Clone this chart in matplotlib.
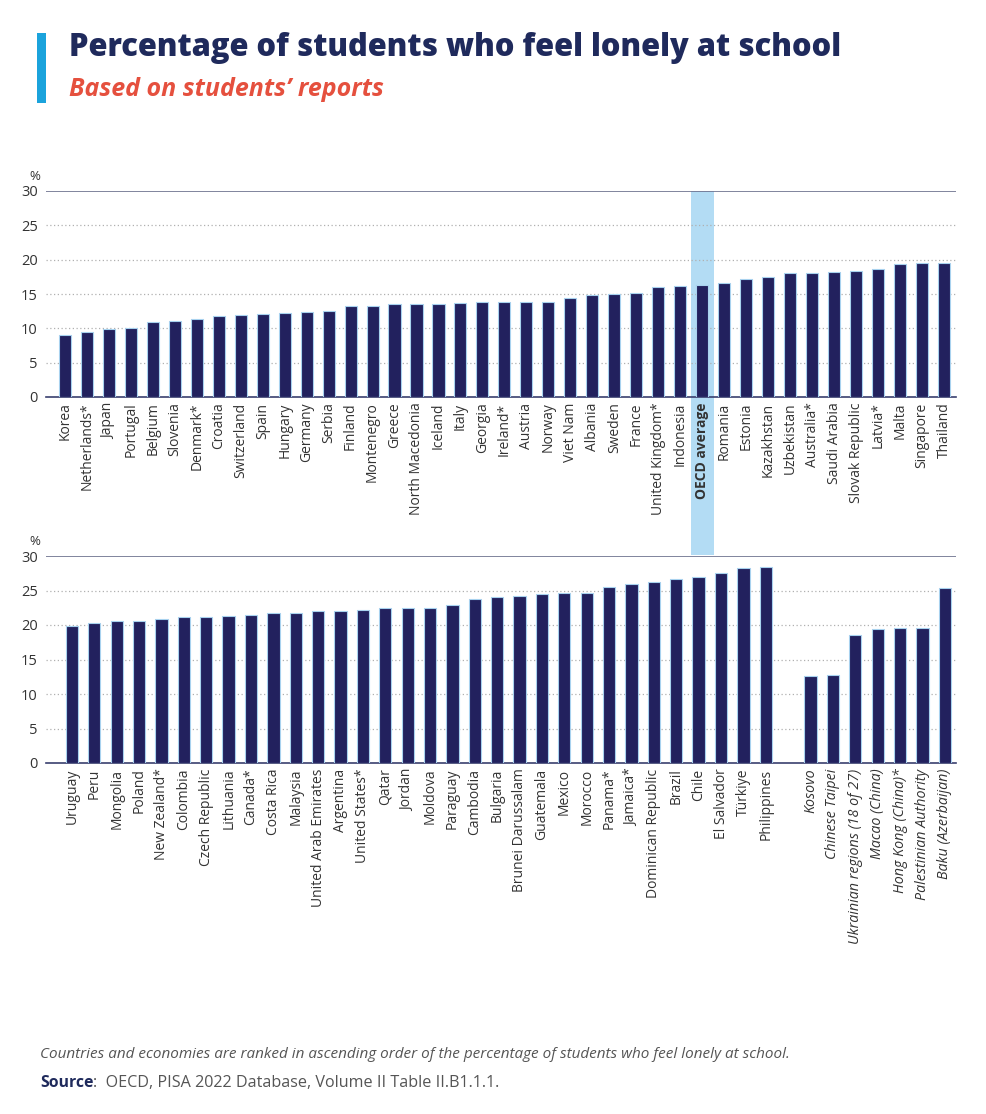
import matplotlib
matplotlib.use("Agg")
import matplotlib.pyplot as plt
import matplotlib.transforms as mtransforms
from matplotlib.patches import Rectangle

plt.rcParams['font.family'] = ['Open Sans', 'DejaVu Sans']

# ---------------- data ----------------
top_countries = ["Korea", "Netherlands*", "Japan", "Portugal", "Belgium", "Slovenia", "Denmark*",
                 "Croatia", "Switzerland", "Spain", "Hungary", "Germany", "Serbia", "Finland",
                 "Montenegro", "Greece", "North Macedonia", "Iceland", "Italy", "Georgia",
                 "Ireland*", "Austria", "Norway", "Viet Nam", "Albania", "Sweden", "France",
                 "United Kingdom*", "Indonesia", "OECD average", "Romania", "Estonia",
                 "Kazakhstan", "Uzbekistan", "Australia*", "Saudi Arabia", "Slovak Republic",
                 "Latvia*", "Malta", "Singapore", "Thailand"]
top_values = [9.1, 9.4, 9.9, 10.1, 10.9, 11.1, 11.4, 11.8, 11.9, 12.1, 12.2, 12.4, 12.5, 13.2,
              13.2, 13.5, 13.6, 13.6, 13.7, 13.8, 13.8, 13.8, 13.9, 14.4, 14.8, 15.0, 15.2,
              16.0, 16.1, 16.3, 16.6, 17.2, 17.5, 18.1, 18.1, 18.2, 18.4, 18.7, 19.4, 19.5, 19.5]

bottom_countries = ["Uruguay", "Peru", "Mongolia", "Poland", "New Zealand*", "Colombia",
                    "Czech Republic", "Lithuania", "Canada*", "Costa Rica", "Malaysia",
                    "United Arab Emirates", "Argentina", "United States*", "Qatar", "Jordan",
                    "Moldova", "Paraguay", "Cambodia", "Bulgaria", "Brunei Darussalam",
                    "Guatemala", "Mexico", "Morocco", "Panama*", "Jamaica*", "Dominican Republic",
                    "Brazil", "Chile", "El Salvador", "Türkiye", "Philippines"]
bottom_values = [19.9, 20.3, 20.6, 20.6, 20.8, 21.1, 21.2, 21.3, 21.4, 21.8, 21.8, 22.0, 22.1,
                 22.2, 22.4, 22.4, 22.5, 22.9, 23.7, 24.0, 24.2, 24.5, 24.6, 24.7, 25.5, 25.9,
                 26.2, 26.6, 27.0, 27.5, 28.2, 28.4]

partner_countries = ["Kosovo", "Chinese Taipei", "Ukrainian regions (18 of 27)", "Macao (China)",
                     "Hong Kong (China)*", "Palestinian Authority", "Baku (Azerbaijan)"]
partner_values = [12.6, 12.8, 18.5, 19.4, 19.6, 19.6, 25.3]

yticks = [0, 5, 10, 15, 20, 25, 30]

# ---------------- style ----------------
BAR = "#22215e"
EDGE = "#a8d2ef"
BAND = "#b3dcf4"
NAVY = "#1f2a5c"
GRID = "#b0b0b0"
TXT = "#333333"

W, H = 986, 1114
fig = plt.figure(figsize=(W / 100, H / 100), dpi=100)


def fx(px):
    return px / W


def fy(py):
    return 1 - py / H


ax1 = fig.add_axes([fx(46), fy(397), fx(956) - fx(46), fy(191) - fy(397)])
ax2 = fig.add_axes([fx(46), fy(763), fx(956) - fx(46), fy(556) - fy(763)])


def style_axis(ax):
    ax.set_facecolor("none")
    ax.set_ylim(0, 30)
    ax.set_yticks(yticks)
    ax.tick_params(axis="y", length=0, labelsize=10.5, colors=TXT, pad=6)
    ax.tick_params(axis="x", length=0, pad=4)
    for s in ["left", "right", "top"]:
        ax.spines[s].set_visible(False)
    ax.spines["bottom"].set_color("#3a3f6e")
    ax.spines["bottom"].set_linewidth(1.2)
    for v in yticks[1:-1]:
        ax.axhline(v, color=GRID, lw=0.9, ls=(0, (1, 2)), zorder=0)
    ax.axhline(30, color="#6b6f8c", lw=1.2, zorder=1)
    ax.text(-0.006, 1.04, "%", transform=ax.transAxes, ha="right", va="bottom",
            fontsize=9.5, color=TXT)


# top chart
x1 = list(range(len(top_countries)))
ax1.bar(x1, top_values, width=0.55, color=BAR, edgecolor=EDGE, linewidth=0.8, zorder=3)
ax1.set_xlim(-0.86, len(top_countries) - 0.45)
style_axis(ax1)
ax1.set_xticks(x1)
ax1.set_xticklabels(top_countries, rotation=90, fontsize=10, color=TXT, va="top", ha="center")
oecd_idx = top_countries.index("OECD average")
ax1.get_xticklabels()[oecd_idx].set_fontweight("bold")

# bottom chart
x2 = list(range(len(bottom_countries)))
x3 = [len(bottom_countries) + 1 + i for i in range(len(partner_countries))]
ax2.bar(x2, bottom_values, width=0.55, color=BAR, edgecolor=EDGE, linewidth=0.8, zorder=3)
ax2.bar(x3, partner_values, width=0.55, color=BAR, edgecolor=EDGE, linewidth=0.8, zorder=3)
ax2.set_xlim(-1.16, x3[-1] + 0.5)
style_axis(ax2)
ax2.set_xticks(x2 + x3)
ax2.set_xticklabels(bottom_countries + partner_countries, rotation=90, fontsize=10, color=TXT,
                    va="top", ha="center")
for lbl in ax2.get_xticklabels()[len(bottom_countries):]:
    lbl.set_fontstyle("italic")
    lbl.set_fontsize(10.3)

# OECD average highlight band across both panels
trans = mtransforms.blended_transform_factory(ax1.transData, fig.transFigure)
band = Rectangle((oecd_idx - 0.52, fy(555)), 1.04, fy(191) - fy(555), transform=trans,
                 facecolor=BAND, edgecolor="none", zorder=-5)
fig.patches.append(band)

# titles
fig.patches.append(Rectangle((fx(37), fy(103)), fx(46) - fx(37), fy(33) - fy(103),
                             transform=fig.transFigure, facecolor="#1ba3dc", edgecolor="none"))
fig.text(fx(69), fy(48), "Percentage of students who feel lonely at school", fontsize=22.2,
         fontweight="heavy", color=NAVY, ha="left", va="center")
fig.text(fx(69), fy(90), "Based on students\u2019 reports", fontsize=18, fontweight="bold",
         fontstyle="italic", color="#e5503e", ha="left", va="center")

# footnotes
fig.text(fx(40), fy(1055), "Countries and economies are ranked in ascending order of the percentage "
         "of students who feel lonely at school.", fontsize=11, fontstyle="italic",
         color="#555555", ha="left", va="center")
t = fig.text(fx(40), fy(1083), "Source", fontsize=11.3, fontweight="bold", color=NAVY,
             ha="left", va="center")
fig.canvas.draw()
bb = t.get_window_extent()
fig.text(bb.x1 / W, fy(1083), ":  OECD, PISA 2022 Database, Volume II Table II.B1.1.1.",
         fontsize=11.6, color="#555555", ha="left", va="center")

fig.savefig("out.png", dpi=100)
